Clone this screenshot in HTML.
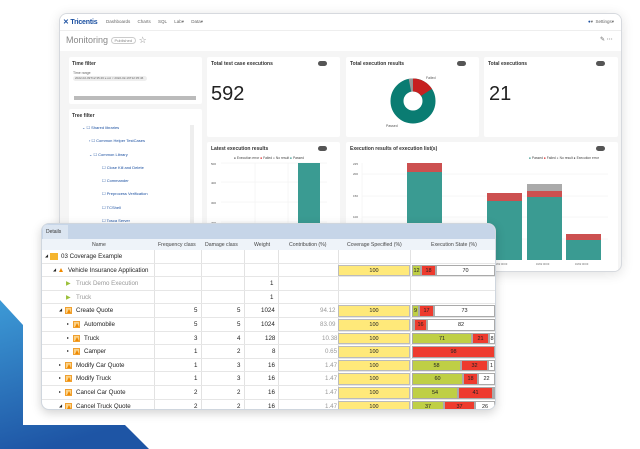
<!DOCTYPE html>
<html><head><meta charset="utf-8"><style>
*{margin:0;padding:0;box-sizing:border-box}
body{width:640px;height:449px;background:#fff;position:relative;overflow:hidden;font-family:"Liberation Sans",sans-serif;color:#333}
.a{position:absolute}
.win{left:59px;top:13px;width:563px;height:259px;border:1px solid #d6d9de;border-radius:8px;background:#f5f5f5;overflow:hidden;box-shadow:0 2px 12px rgba(0,0,0,.12)}
.p{position:absolute;background:#fff;border-radius:2px}
.t{font-size:5px;font-weight:bold;color:#333;position:absolute}
.pill{position:absolute;width:9px;height:5px;border-radius:3px;background:#555}
.tab{left:41px;top:223px;width:455px;height:187px;background:#fff;border:1px solid #cfd6de;border-radius:8px;overflow:hidden;box-shadow:0 3px 10px rgba(0,0,0,.18)}
.row{position:absolute;left:0;width:455px;height:13.6px;border-bottom:1px solid #e6e6e6;font-size:6.2px;color:#222}
.row span{position:absolute;top:3px}
.c{position:absolute;top:0;height:13.6px;border-left:1px solid #e2e2e2}
.ic{position:absolute;top:3px;width:7px;height:7px;background:#fbd38a;border:1px solid #f0a030}
.ic:after{content:"";position:absolute;left:1px;top:1px;border-left:2.5px solid transparent;border-right:2.5px solid transparent;border-bottom:4px solid #f08a00}
.yel{position:absolute;left:296px;width:72px;top:1px;height:11.6px;background:#ffe97a;border:1px solid #bbb;font-size:5.5px;text-align:center;line-height:10px}
.eb{position:absolute;top:1px;height:11.6px;font-size:5.5px;text-align:center;line-height:10px;border:1px solid #aaa}
.g{background:#bfcf45}.r{background:#ee3b2e}.w{background:#fff}
</style></head><body>
<svg class="a" style="left:0;top:0" width="640" height="449">
<defs><linearGradient id="bg" x1="0" y1="0" x2="0.3" y2="1"><stop offset="0" stop-color="#3d9ad6"/><stop offset="1" stop-color="#1e55a5"/></linearGradient></defs>
<polygon points="0,300 23,325 23,425 125,425 149,449 0,449" fill="url(#bg)"/>
</svg>

<div class="a win">
 <div class="a" style="left:0;top:0;width:563px;height:17px;background:#fff;border-bottom:1px solid #eee"></div>
 <div class="a" style="left:3px;top:4px;font-size:7px;font-weight:bold;color:#1a4fa0;letter-spacing:-0.2px">✕ Tricentis</div>
 <div class="a" style="left:46px;top:5px;font-size:4.5px;color:#666;word-spacing:6px">Dashboards Charts SQL&nbsp;Lab▾ Data▾</div>
 <div class="a" style="left:528px;top:5px;font-size:4.5px;color:#666"><span style="color:#1a4fa0">●</span>▾ &nbsp;Settings▾</div>
 <div class="a" style="left:0;top:17px;width:563px;height:20px;background:#fff"></div>
 <div class="a" style="left:6px;top:21px;font-size:9px;color:#888">Monitoring <span style="font-size:4px;border:1px solid #ccc;border-radius:4px;padding:0 3px;vertical-align:middle">Published</span> ☆</div>
 <div class="a" style="left:540px;top:22px;font-size:6px;color:#666">✎ ⋯</div>

 <div class="p" style="left:9px;top:43px;width:133px;height:47px">
  <div class="t" style="left:3px;top:4px">Time filter</div>
  <div class="a" style="left:4px;top:14px;font-size:3.5px;color:#666">Time range</div>
  <div class="a" style="left:4px;top:19px;width:74px;height:5px;border-radius:3px;background:#eee;font-size:3px;color:#666;padding-left:2px;line-height:5px">2022-02-09T12:35:46 ≤ col &lt; 2022-02-16T12:35:46</div>
  <div class="a" style="left:5px;top:39px;width:122px;height:4px;background:#bbb"></div>
 </div>
 <div class="p" style="left:9px;top:95px;width:133px;height:170px">
  <div class="t" style="left:3px;top:4px">Tree filter</div>
  <div class="a" style="left:121px;top:16px;width:4px;height:150px;background:#eee"></div>
  <div class="a" style="left:121px;top:114px;width:4px;height:60px;background:#bbb"></div>
  <div class="a" style="left:13px;top:12px;font-size:4px;color:#1a4fa0;line-height:13.3px">
   <div>⌄ ☐ Shared libraries</div>
   <div style="padding-left:7px">› ☐ Common Helper TestCases</div>
   <div style="padding-left:7px">⌄ ☐ Common Library</div>
   <div style="padding-left:20px">☐ Close Kill and Delete</div>
   <div style="padding-left:20px">☐ Commander</div>
   <div style="padding-left:20px">☐ Preprocess Verification</div>
   <div style="padding-left:20px">☐ TCShell</div>
   <div style="padding-left:20px">☐ Tosca Server</div>
  </div>
 </div>

 <div class="p" style="left:147px;top:43px;width:133px;height:80px">
  <div class="t" style="left:4px;top:4px">Total test case executions</div><div class="pill" style="left:111px;top:4px"></div>
  <div class="a" style="left:4px;top:26px;font-size:20px;color:#222">592</div>
 </div>
 <div class="p" style="left:286px;top:43px;width:133px;height:80px">
  <div class="t" style="left:4px;top:4px">Total execution results</div><div class="pill" style="left:111px;top:4px"></div>
  <svg class="a" style="left:0;top:0" width="133" height="80">
   <circle cx="67" cy="44" r="16" fill="none" stroke="#0a7c72" stroke-width="13"/>
   <circle cx="67" cy="44" r="16" fill="none" stroke="#c62020" stroke-width="13" stroke-dasharray="16 200" transform="rotate(-90 67 44)"/>
   <circle cx="67" cy="44" r="16" fill="none" stroke="#999" stroke-width="13" stroke-dasharray="3 200" transform="rotate(-101 67 44)"/>
   <text x="80" y="22" font-size="3.5" fill="#555">Failed</text><text x="40" y="70" font-size="3.5" fill="#555">Passed</text>
  </svg>
 </div>
 <div class="p" style="left:424px;top:43px;width:134px;height:80px">
  <div class="t" style="left:4px;top:4px">Total executions</div><div class="pill" style="left:112px;top:4px"></div>
  <div class="a" style="left:5px;top:26px;font-size:20px;color:#222">21</div>
 </div>

 <div class="p" style="left:147px;top:128px;width:133px;height:140px">
  <div class="t" style="left:4px;top:4px">Latest execution results</div><div class="pill" style="left:111px;top:4px"></div>
  <div class="a" style="left:27px;top:14px;font-size:3.3px;color:#444">● Execution error <span style="color:#c00">●</span> Failed <span style="color:#999">●</span> No result <span style="color:#0a7c72">●</span> Passed</div>
  <svg class="a" style="left:0;top:0" width="133" height="140"><g stroke="#eee" stroke-width=".5"><line x1="14" y1="21" x2="120" y2="21"/><line x1="14" y1="40" x2="120" y2="40"/><line x1="14" y1="60" x2="120" y2="60"/><line x1="14" y1="80" x2="120" y2="80"/><line x1="48" y1="21" x2="48" y2="140"/><line x1="81" y1="21" x2="81" y2="140"/></g>
  <g font-size="3" fill="#555"><text x="4" y="23">500</text><text x="4" y="42">400</text><text x="4" y="62">300</text><text x="4" y="82">200</text></g>
  <rect x="91" y="21" width="22" height="120" fill="#3a9b92"/></svg>
 </div>
 <div class="p" style="left:286px;top:128px;width:272px;height:130px">
  <div class="t" style="left:4px;top:4px">Execution results of execution list(s)</div><div class="pill" style="left:250px;top:4px"></div>
  <div class="a" style="left:183px;top:14px;font-size:3.3px;color:#444"><span style="color:#0a7c72">●</span> Passed <span style="color:#c00">●</span> Failed <span style="color:#999">●</span> No result ● Execution error</div>
  <svg class="a" style="left:0;top:0" width="272" height="130"><g stroke="#eee" stroke-width=".5"><line x1="16" y1="32" x2="262" y2="32"/><line x1="16" y1="54" x2="262" y2="54"/><line x1="16" y1="75" x2="262" y2="75"/><line x1="16" y1="97" x2="262" y2="97"/><line x1="16" y1="21" x2="16" y2="118"/></g>
  <g font-size="3" fill="#555"><text x="7" y="23">225</text><text x="7" y="33">200</text><text x="7" y="55">150</text><text x="7" y="76">100</text></g>
  <rect x="61" y="21" width="35" height="97" fill="#3a9b92"/><rect x="61" y="21" width="35" height="9" fill="#cc5050"/>
  <rect x="141" y="51" width="35" height="67" fill="#3a9b92"/><rect x="141" y="51" width="35" height="8" fill="#cc5050"/>
  <rect x="181" y="42" width="35" height="76" fill="#3a9b92"/><rect x="181" y="49" width="35" height="6" fill="#cc5050"/><rect x="181" y="42" width="35" height="7" fill="#aaa"/>
  <rect x="220" y="92" width="35" height="26" fill="#3a9b92"/><rect x="220" y="92" width="35" height="6" fill="#cc5050"/>
  <g font-size="2.5" fill="#666"><text x="148" y="123">16/02 00:00</text><text x="190" y="123">16/02 00:00</text><text x="229" y="123">16/02 00:00</text></g></svg>
 </div>
</div>

<div class="a tab">
 <div class="a" style="left:0;top:0;width:455px;height:15px;background:#c6d5e8"></div>
 <div class="a" style="left:1px;top:1px;width:25px;height:14px;background:#dbe5f1;font-size:5px;padding:4px 0 0 3px">Details</div>
 <div class="a" style="left:0;top:15px;width:455px;height:11px;background:#eef3f9;font-size:5.2px;color:#444">
  <span class="a" style="left:50px;top:3px">Name</span><span class="a" style="left:116px;top:3px">Frequency class</span><span class="a" style="left:163px;top:3px">Damage class</span><span class="a" style="left:212px;top:3px">Weight</span><span class="a" style="left:247px;top:3px">Contribution (%)</span><span class="a" style="left:305px;top:3px">Coverage Specified (%)</span><span class="a" style="left:389px;top:3px">Execution State (%)</span>
 </div>
 <div class="a" style="left:0;top:26px;width:455px;height:161px">
  <div class="c" style="left:112px;height:161px"></div><div class="c" style="left:159px;height:161px"></div><div class="c" style="left:202px;height:161px"></div><div class="c" style="left:236px;height:161px"></div><div class="c" style="left:296px;height:161px"></div><div class="c" style="left:368px;height:161px"></div>

  <div class="row" style="top:0"><span style="left:3px;font-size:4px">◢</span><div class="a" style="left:8px;top:3px;width:8px;height:7px;background:#f5b52e"></div><span style="left:19px">03 Coverage Example</span></div>
  <div class="row" style="top:13.6px"><span style="left:11px;font-size:4px">◢</span><div class="ic" style="left:16px;background:none;border:none"></div><span style="left:26px">Vehicle Insurance Application</span>
   <div class="yel">100</div><div class="eb g" style="left:370px;width:9px">12</div><div class="eb r" style="left:379px;width:15px">18</div><div class="eb w" style="left:394px;width:59px">70</div></div>
  <div class="row" style="top:27.2px;color:#999"><span style="left:24px;color:#9bc03a">▶</span><span style="left:34px">Truck Demo Execution</span><span style="left:228px;color:#222">1</span></div>
  <div class="row" style="top:40.8px;color:#999"><span style="left:24px;color:#9bc03a">▶</span><span style="left:34px">Truck</span><span style="left:228px;color:#222">1</span></div>
  <div class="row" style="top:54.4px"><span style="left:17px;font-size:4px">◢</span><div class="ic" style="left:23px"></div><span style="left:34px">Create Quote</span><span style="left:152px">5</span><span style="left:195px">5</span><span style="left:219px">1024</span><span style="left:278px;color:#999">94.12</span>
   <div class="yel">100</div><div class="eb g" style="left:370px;width:7px">9</div><div class="eb r" style="left:377px;width:15px">17</div><div class="eb w" style="left:392px;width:61px">73</div></div>
  <div class="row" style="top:68px"><span style="left:25px;font-size:4px">▸</span><div class="ic" style="left:31px"></div><span style="left:42px">Automobile</span><span style="left:152px">5</span><span style="left:195px">5</span><span style="left:219px">1024</span><span style="left:278px;color:#999">83.09</span>
   <div class="yel">100</div><div class="eb g" style="left:370px;width:2px"></div><div class="eb r" style="left:372px;width:13px">16</div><div class="eb w" style="left:385px;width:68px">82</div></div>
  <div class="row" style="top:81.6px"><span style="left:25px;font-size:4px">▸</span><div class="ic" style="left:31px"></div><span style="left:42px">Truck</span><span style="left:152px">3</span><span style="left:195px">4</span><span style="left:223px">128</span><span style="left:280px;color:#999">10.38</span>
   <div class="yel">100</div><div class="eb g" style="left:370px;width:60px">71</div><div class="eb r" style="left:430px;width:17px">21</div><div class="eb w" style="left:447px;width:6px">8</div></div>
  <div class="row" style="top:95.2px"><span style="left:25px;font-size:4px">▸</span><div class="ic" style="left:31px"></div><span style="left:42px">Camper</span><span style="left:152px">1</span><span style="left:195px">2</span><span style="left:230px">8</span><span style="left:283px;color:#999">0.65</span>
   <div class="yel">100</div><div class="eb r" style="left:370px;width:83px">98</div></div>
  <div class="row" style="top:108.8px"><span style="left:17px;font-size:4px">▸</span><div class="ic" style="left:23px"></div><span style="left:34px">Modify Car Quote</span><span style="left:152px">1</span><span style="left:195px">3</span><span style="left:226px">16</span><span style="left:283px;color:#999">1.47</span>
   <div class="yel">100</div><div class="eb g" style="left:370px;width:49px">58</div><div class="eb r" style="left:419px;width:27px">32</div><div class="eb w" style="left:446px;width:7px">1</div></div>
  <div class="row" style="top:122.4px"><span style="left:17px;font-size:4px">▸</span><div class="ic" style="left:23px"></div><span style="left:34px">Modify Truck</span><span style="left:152px">1</span><span style="left:195px">3</span><span style="left:226px">16</span><span style="left:283px;color:#999">1.47</span>
   <div class="yel">100</div><div class="eb g" style="left:370px;width:51px">60</div><div class="eb r" style="left:421px;width:15px">18</div><div class="eb w" style="left:436px;width:17px">22</div></div>
  <div class="row" style="top:136px"><span style="left:17px;font-size:4px">▸</span><div class="ic" style="left:23px"></div><span style="left:34px">Cancel Car Quote</span><span style="left:152px">2</span><span style="left:195px">2</span><span style="left:226px">16</span><span style="left:283px;color:#999">1.47</span>
   <div class="yel">100</div><div class="eb g" style="left:370px;width:46px">54</div><div class="eb r" style="left:416px;width:35px">41</div><div class="eb w" style="left:451px;width:2px"></div></div>
  <div class="row" style="top:149.6px"><span style="left:17px;font-size:4px">◢</span><div class="ic" style="left:23px"></div><span style="left:34px">Cancel Truck Quote</span><span style="left:152px">2</span><span style="left:195px">2</span><span style="left:226px">16</span><span style="left:283px;color:#999">1.47</span>
   <div class="yel">100</div><div class="eb g" style="left:370px;width:32px">37</div><div class="eb r" style="left:402px;width:31px">37</div><div class="eb w" style="left:433px;width:20px">26</div></div>
 </div>
</div>
</body></html>
